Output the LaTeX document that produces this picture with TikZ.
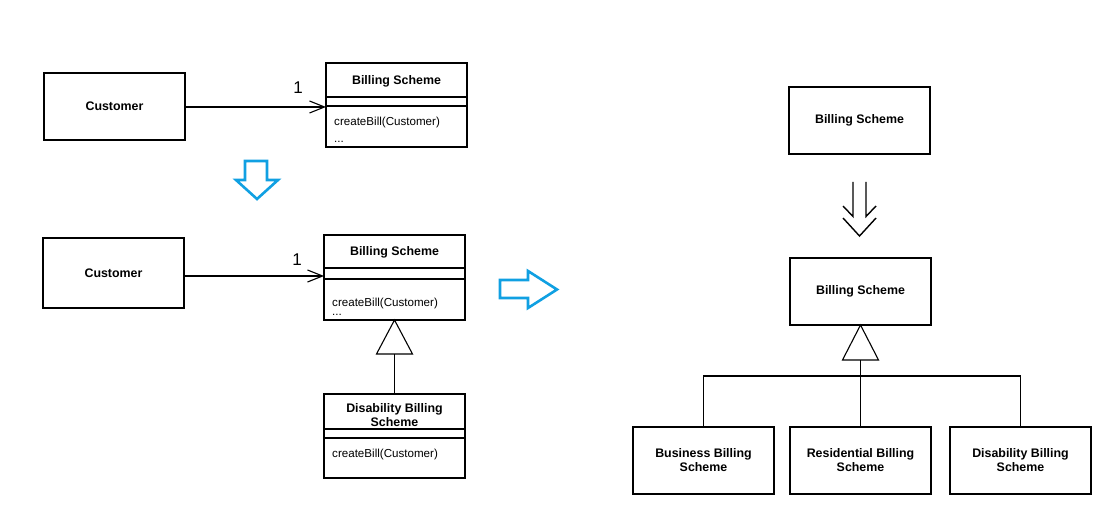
\documentclass[tikz,border=0pt]{standalone}
\usepackage{fontspec}
\setmainfont{Liberation Sans}
\usetikzlibrary{arrows.meta,calc}
\definecolor{arrowblue}{RGB}{16,160,226}
\begin{document}
\begin{tikzpicture}[x=1pt,y=-1pt,
  box/.style={draw, line width=1.1pt, inner sep=0pt, outer sep=0pt, anchor=north west,
              minimum width=141pt, font=\fontsize{12.4}{14}\selectfont\bfseries, align=center},
  cname/.style={font=\fontsize{12.4}{14}\selectfont\bfseries, align=center, inner sep=0pt},
  op/.style={font=\fontsize{11.6}{13}\selectfont, anchor=base west, inner sep=0pt},
  mult/.style={font=\fontsize{17}{20}\selectfont, inner sep=0pt},
  uml/.style={line width=1.1pt},
  assoc/.style={line width=1.1pt, -{Straight Barb[length=15pt,width=12pt]}},
  bluearrow/.style={draw=arrowblue, line width=2.6pt, line join=miter},
  implies/.style={line width=1.4pt, line join=miter}
]
\useasboundingbox (0,0) rectangle (1118,526);

% ---------- top-left: before ----------
\node[box, minimum height=67pt] (C1) at (44,73) {Customer};
\node[box, minimum height=84pt] (BS1) at (326,63) {};
\node[cname] (BS1n) at (396.5,81) {Billing Scheme};
\draw[uml] (326,97) -- (467,97);
\draw[uml] (326,106) -- (467,106);
\node[op] (BS1o) at (334,126) {createBill(Customer)};
\node[op] (BS1d) at (334,143) {...};
\coordinate (A1s) at ($(C1.east)+(0,0.5)$);
\draw[assoc] (A1s) -- (A1s -| BS1.west);
\node[mult] (M1) at (298,88) {1};

% blue down arrow
\draw[bluearrow] (245,161) -- (267,161) -- (267,180) -- (278,180) -- (257,199)
  -- (236,180) -- (245,180) -- cycle;

% ---------- bottom-left: after ----------
\node[box, minimum height=70pt] (C2) at (43,238) {Customer};
\node[box, minimum height=85pt] (BS2) at (324,235) {};
\node[cname] (BS2n) at (394.5,252) {Billing Scheme};
\draw[uml] (324,268) -- (465,268);
\draw[uml] (324,279) -- (465,279);
\node[op] (BS2o) at (332,306) {createBill(Customer)};
\node[op] (BS2d) at (332,316) {...};
\coordinate (A2s) at ($(C2.east)+(0,3)$);
\draw[assoc] (A2s) -- (A2s -| BS2.west);
\node[mult] (M2) at (297,260) {1};

\node[box, minimum height=84pt] (DBS) at (324,394) {};
\node[cname] (DBSn) at (394.5,415) {Disability Billing\\Scheme};
\draw[uml] (324,429) -- (465,429);
\draw[uml] (324,438) -- (465,438);
\node[op] (DBSo) at (332,457) {createBill(Customer)};

\coordinate (G1) at ($(BS2.south)+(0,34)$);
\draw[uml, line join=miter] (BS2.south) -- ($(G1)+(-18,0)$) -- ($(G1)+(18,0)$) -- cycle;
\draw[uml] (G1) -- (DBS.north);

% blue right arrow
\draw[bluearrow] (500,280) -- (528,280) -- (528,271) -- (557,289.5) -- (528,308)
  -- (528,298) -- (500,298) -- cycle;

% ---------- right side ----------
\node[box, minimum height=67pt] (T1) at (789,87) {Billing Scheme};

% double (implies) arrow
\draw[implies] (853,182) -- (853,216.5) -- (843,206);
\draw[implies] (866,182) -- (866,216.5) -- (876,206);
\draw[implies] (843,218) -- (859.5,236) -- (876,218);

\node[box, minimum height=67pt] (T2) at (790,258) {Billing Scheme};
\node[box, minimum height=67pt] (B1) at (633,427) {Business Billing\\Scheme};
\node[box, minimum height=67pt] (B2) at (790,427) {Residential Billing\\Scheme};
\node[box, minimum height=67pt] (B3) at (950,427) {Disability Billing\\Scheme};

\coordinate (G2) at ($(T2.south)+(0,35)$);
\coordinate (bus) at (860.5,376);
\draw[uml, line join=miter] (T2.south) -- ($(G2)+(-18,0)$) -- ($(G2)+(18,0)$) -- cycle;
\draw[uml] (G2) -- (B2.north);
\draw[uml] (B1.north) -- (B1.north |- bus) -- (B3.north |- bus) -- (B3.north);
\end{tikzpicture}
\end{document}
